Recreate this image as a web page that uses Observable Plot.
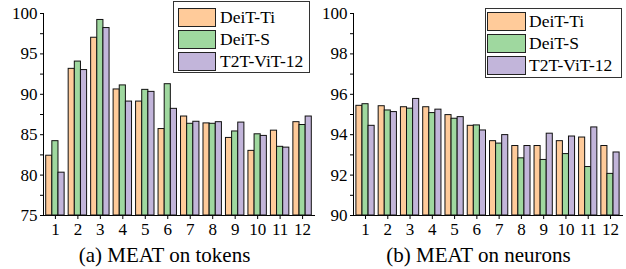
<!DOCTYPE html>
<html><head><meta charset="utf-8">
<script src="https://cdn.jsdelivr.net/npm/d3@7"></script>
<script src="https://cdn.jsdelivr.net/npm/@observablehq/plot@0.6"></script>
<style>
body{margin:0;background:#fff;font-family:"Liberation Serif","DejaVu Serif",Times,serif;}
#root{position:relative;width:626px;height:269px;overflow:hidden;background:#fff;}
.panel{position:absolute;top:0;}
.caption{position:absolute;top:243px;font-size:21px;line-height:25px;text-align:center;color:#000;white-space:nowrap;font-family:"Liberation Serif","DejaVu Serif",Times,serif;}
.legend{position:absolute;border:1px solid #333;background:#fff;box-sizing:border-box;font-size:17.5px;color:#000;font-family:"Liberation Serif","DejaVu Serif",Times,serif;}
.legend .row{display:flex;align-items:center;}
.legend .sw{height:19px;border:1px solid #222;box-sizing:border-box;}
svg text{font-family:"Liberation Serif","DejaVu Serif",Times,serif !important;}
</style>
</head><body>
<div id="root">
  <div class="panel" id="left" style="left:0px"></div>
  <div class="panel" id="right" style="left:320px"></div>
  <div class="caption" style="left:0px;width:329px">(a) MEAT on tokens</div>
  <div class="caption" style="left:320px;width:317px">(b) MEAT on neurons</div>
</div>
<script>
// ---- data ----
const groups = ["1","2","3","4","5","6","7","8","9","10","11","12"];
const seriesNames = ["DeiT-Ti", "DeiT-S", "T2T-ViT-12"];
const seriesColors = ["#FFCB9A", "#9FD89F", "#C2B5DA"];

const tokensDeiTTi  = [82.4, 93.15, 97.0, 90.6, 89.1, 85.7, 87.25, 86.4, 84.6, 83.0, 85.5, 86.55];
const tokensDeiTS   = [84.2, 94.05, 99.2, 91.1, 90.55, 91.25, 86.35, 86.35, 85.4, 85.05, 83.5, 86.2];
const tokensT2T     = [80.3, 93.0, 98.2, 89.1, 90.3, 88.2, 86.6, 86.55, 86.5, 84.85, 83.4, 87.25];

const neuronsDeiTTi = [95.43, 95.41, 95.36, 95.36, 94.97, 94.44, 93.68, 93.44, 93.44, 93.68, 93.86, 93.44];
const neuronsDeiTS  = [95.51, 95.2, 95.29, 95.07, 94.79, 94.46, 93.56, 92.83, 92.75, 93.04, 92.40, 92.06];
const neuronsT2T    = [94.44, 95.12, 95.77, 95.24, 94.87, 94.21, 93.98, 93.44, 94.05, 93.91, 94.36, 93.12];

const tokensMajorTicks = [75, 80, 85, 90, 95, 100];
const tokensMinorTicks = [77.5, 82.5, 87.5, 92.5, 97.5];
const neuronsMajorTicks = [90, 92, 94, 96, 98, 100];
const neuronsMinorTicks = [91, 93, 95, 97, 99];

// ---- chart ----
function chart({values, major, minor, width, marginLeft, marginRight, pIn, pOut}) {
  const height = 240, marginTop = 13, marginBottom = 25;
  const yDomain = [major[0], major[major.length - 1]];
  const step = (width - marginLeft - marginRight) / (groups.length - pIn + 2 * pOut);
  const bw = step * (1 - pIn) / seriesNames.length;
  const marks = seriesNames.map((name, i) => {
    const data = groups.map((g, j) => ({group: g, value: values[i][j]}));
    return Plot.barY(data, {
      x: "group", y1: () => yDomain[0], y2: "value",
      fill: seriesColors[i], stroke: "#111", strokeWidth: 1,
      insetLeft: i * bw, insetRight: (seriesNames.length - 1 - i) * bw
    });
  });
  const allTicks = [...major, ...minor].sort((a, b) => a - b);
  return Plot.plot({
    width, height, marginTop, marginBottom, marginLeft, marginRight,
    style: {fontFamily: "'Liberation Serif','DejaVu Serif',Times,serif", fontSize: "17px", color: "#000", background: "transparent", overflow: "visible"},
    x: {type: "band", domain: groups, paddingInner: pIn, paddingOuter: pOut, round: false,
        tickSize: 4, tickPadding: 3, line: true, label: null},
    y: {domain: yDomain, ticks: allTicks, tickFormat: d => major.includes(d) ? String(d) : "",
        tickSize: 3, tickPadding: 3, line: true, label: null},
    marks
  });
}

document.getElementById("left").appendChild(chart({
  values: [tokensDeiTTi, tokensDeiTS, tokensT2T],
  major: tokensMajorTicks, minor: tokensMinorTicks,
  width: 320, marginLeft: 43, marginRight: 6, pIn: 0.18, pOut: 0.12
}));
document.getElementById("right").appendChild(chart({
  values: [neuronsDeiTTi, neuronsDeiTS, neuronsT2T],
  major: neuronsMajorTicks, minor: neuronsMinorTicks,
  width: 306, marginLeft: 33, marginRight: 4, pIn: 0.18, pOut: 0.13
}));

// ---- legends ----
function legend({left, top, width, height, padLeft, padTop, rowH, swW, gap}) {
  const box = document.createElement("div");
  box.className = "legend";
  Object.assign(box.style, {left: left + "px", top: top + "px", width: width + "px", height: height + "px",
    paddingLeft: padLeft + "px", paddingTop: padTop + "px"});
  seriesNames.forEach((name, i) => {
    const row = document.createElement("div");
    row.className = "row";
    row.style.height = rowH + "px";
    const sw = document.createElement("div");
    sw.className = "sw";
    sw.style.width = swW + "px";
    sw.style.background = seriesColors[i];
    sw.style.marginRight = gap + "px";
    const t = document.createElement("span");
    t.textContent = name;
    row.appendChild(sw); row.appendChild(t);
    box.appendChild(row);
  });
  document.getElementById("root").appendChild(box);
}
legend({left: 173, top: 1, width: 137, height: 72, padLeft: 4, padTop: 4, rowH: 22.3, swW: 38, gap: 4});
legend({left: 485, top: 8, width: 137, height: 70, padLeft: 1, padTop: 2, rowH: 21.7, swW: 39, gap: 3});
</script>
</body></html>
